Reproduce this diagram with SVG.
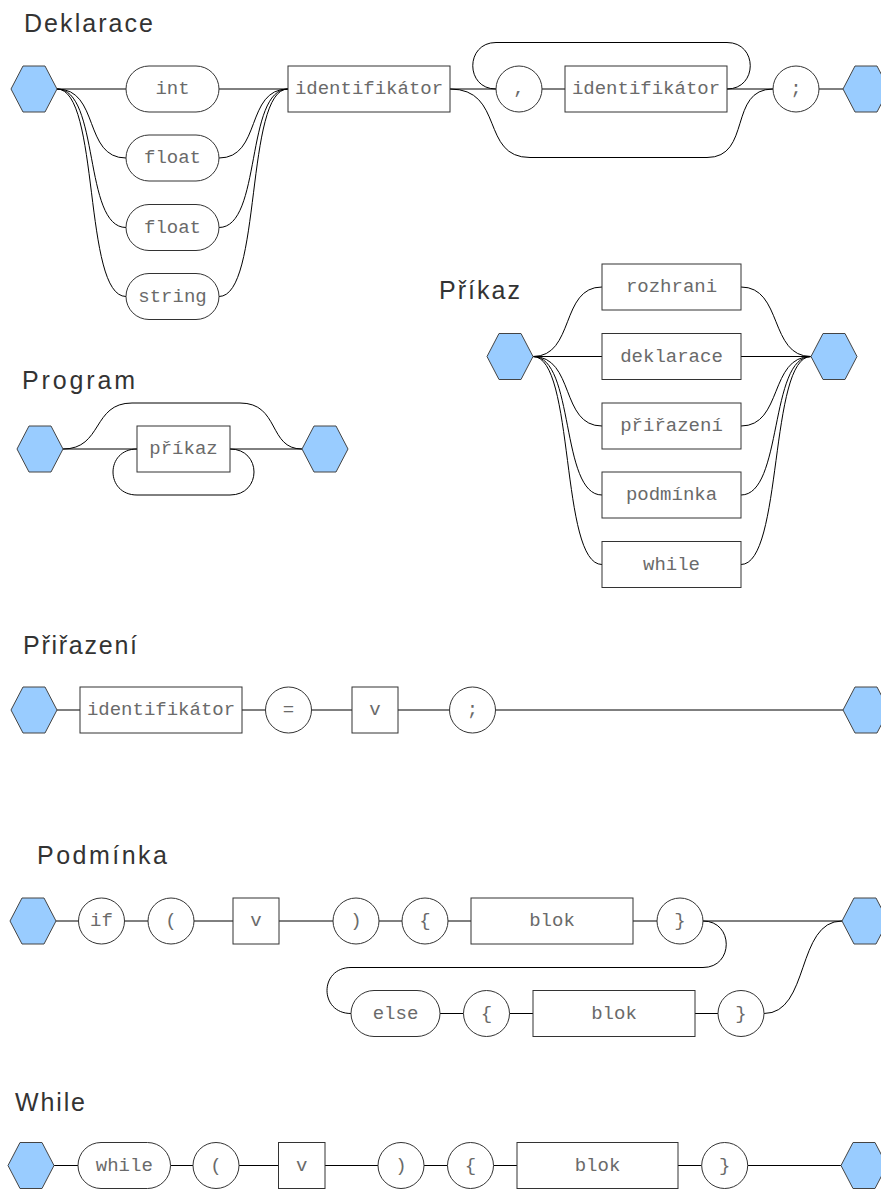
<svg xmlns="http://www.w3.org/2000/svg" width="881" height="1189" viewBox="0 0 881 1189">
<style>
.bg{fill:#fff}
.title{font-family:"Liberation Sans",Arial,sans-serif;font-size:25px;fill:#333}
.hex{fill:#99ccff;stroke:#444;stroke-width:1}
.node{fill:#fff;stroke:#333;stroke-width:1}
.lbl{font-family:"Liberation Mono","Courier New",monospace;font-size:19px;fill:#6a6a6a;text-anchor:middle}
.conn path{fill:none;stroke:#000;stroke-width:1}
</style>
<rect class="bg" x="0" y="0" width="881" height="1189"/>

<!-- Titles -->
<text class="title" x="24" y="31.5" textLength="129" lengthAdjust="spacing">Deklarace</text>
<text class="title" x="22" y="389" textLength="113" lengthAdjust="spacing">Program</text>
<text class="title" x="439" y="299" textLength="81" lengthAdjust="spacing">Příkaz</text>
<text class="title" x="23" y="654" textLength="114" lengthAdjust="spacing">Přiřazení</text>
<text class="title" x="37" y="864" textLength="130" lengthAdjust="spacing">Podmínka</text>
<text class="title" x="15" y="1111" textLength="70" lengthAdjust="spacing">While</text>

<!-- Connectors -->
<g id="connectors" class="conn">
  <!-- Deklarace -->
  <path d="M57,89 L126,89"/>
  <path d="M57,89 C100,89 83,158 126,158"/>
  <path d="M57,89 C100,89 83,227.5 126,227.5"/>
  <path d="M57,89 C100,89 83,296.5 126,296.5"/>
  <path d="M219,89 L288,89"/>
  <path d="M219,158 C262,158 245,89 288,89"/>
  <path d="M219,227.5 C262,227.5 245,89 288,89"/>
  <path d="M219,296.5 C262,296.5 245,89 288,89"/>
  <path d="M450,89 L496,89"/>
  <path d="M542,89 L565,89"/>
  <path d="M727,89 L773,89"/>
  <path d="M819,89 L843,89"/>
  <path d="M727,89 C758,89 758,42.5 727,42.5 L496,42.5 C465,42.5 465,89 496,89"/>
  <path d="M450,89 C505,89 480,157.5 530,157.5 L707,157.5 C752,157.5 728,89 773,89"/>
  <!-- Program -->
  <path d="M63,449 L137,449"/>
  <path d="M230,449 L302,449"/>
  <path d="M63,449 C103,449 92,403 132,403 L240,403 C280,403 268,449 302,449"/>
  <path d="M230,449 C262,449 262,495 230,495 L137,495 C105,495 105,449 137,449"/>
  <!-- Příkaz -->
  <path d="M533,356.5 C575,356.5 560,287 602,287"/>
  <path d="M533,356.5 L602,356.5"/>
  <path d="M533,356.5 C575,356.5 560,426 602,426"/>
  <path d="M533,356.5 C575,356.5 560,495 602,495"/>
  <path d="M533,356.5 C575,356.5 560,564.5 602,564.5"/>
  <path d="M741,287 C783,287 769,356.5 811,356.5"/>
  <path d="M741,356.5 L811,356.5"/>
  <path d="M741,426 C783,426 769,356.5 811,356.5"/>
  <path d="M741,495 C783,495 769,356.5 811,356.5"/>
  <path d="M741,564.5 C783,564.5 769,356.5 811,356.5"/>
  <!-- Přiřazení -->
  <path d="M57,710 L80,710"/>
  <path d="M242,710 L265.5,710"/>
  <path d="M311.5,710 L352,710"/>
  <path d="M398,710 L449.5,710"/>
  <path d="M495.5,710 L843,710"/>
  <!-- Podmínka -->
  <path d="M56,921 L78.5,921"/>
  <path d="M124.5,921 L148,921"/>
  <path d="M194,921 L233,921"/>
  <path d="M279,921 L333,921"/>
  <path d="M379,921 L402,921"/>
  <path d="M448,921 L471,921"/>
  <path d="M633,921 L657,921"/>
  <path d="M703,921 L842,921"/>
  <path d="M703,921 C734,921 734,967.5 703,967.5 L351,967.5 C319,967.5 319,1013.5 351,1013.5"/>
  <path d="M440,1013.5 L463.5,1013.5"/>
  <path d="M509.5,1013.5 L533,1013.5"/>
  <path d="M695,1013.5 L718,1013.5"/>
  <path d="M764,1013.5 C810,1013.5 796,921 842,921"/>
  <!-- While -->
  <path d="M54,1165.5 L78,1165.5"/>
  <path d="M170.5,1165.5 L193,1165.5"/>
  <path d="M239,1165.5 L278.5,1165.5"/>
  <path d="M325,1165.5 L378,1165.5"/>
  <path d="M424,1165.5 L447.5,1165.5"/>
  <path d="M493.5,1165.5 L517,1165.5"/>
  <path d="M678,1165.5 L701.7,1165.5"/>
  <path d="M747.7,1165.5 L841,1165.5"/>
</g>

<!-- Deklarace nodes -->
<g id="dekl-start"><polygon class="hex" points="11,89 23,66 45,66 57,89 45,112 23,112"/></g>
<g id="dekl-int"><rect class="node" x="126" y="66" width="93" height="46" rx="23"/><text class="lbl" x="172.5" y="94">int</text></g>
<g id="dekl-float1"><rect class="node" x="126" y="135" width="93" height="46" rx="23"/><text class="lbl" x="172.5" y="163">float</text></g>
<g id="dekl-float2"><rect class="node" x="126" y="204.5" width="93" height="46" rx="23"/><text class="lbl" x="172.5" y="232.5">float</text></g>
<g id="dekl-string"><rect class="node" x="126" y="273.5" width="93" height="46" rx="23"/><text class="lbl" x="172.5" y="301.5">string</text></g>
<g id="dekl-ident1"><rect class="node" x="288" y="66" width="162" height="46"/><text class="lbl" x="369" y="94">identifikátor</text></g>
<g id="dekl-comma"><circle class="node" cx="519" cy="89" r="23"/><text class="lbl" x="519" y="94">,</text></g>
<g id="dekl-ident2"><rect class="node" x="565" y="66" width="162" height="46"/><text class="lbl" x="646" y="94">identifikátor</text></g>
<g id="dekl-semi"><circle class="node" cx="796" cy="89" r="23"/><text class="lbl" x="796" y="94">;</text></g>
<g id="dekl-end"><polygon class="hex" points="843,89 855,66 877,66 889,89 877,112 855,112"/></g>

<!-- Program nodes -->
<g id="prog-start"><polygon class="hex" points="17,449 29,426 51,426 63,449 51,472 29,472"/></g>
<g id="prog-prikaz"><rect class="node" x="137" y="426" width="93" height="46"/><text class="lbl" x="183.5" y="454">příkaz</text></g>
<g id="prog-end"><polygon class="hex" points="302,449 314,426 336,426 348,449 336,472 314,472"/></g>

<!-- Příkaz nodes -->
<g id="prik-start"><polygon class="hex" points="487,356.5 499,333.5 521,333.5 533,356.5 521,379.5 499,379.5"/></g>
<g id="prik-rozhrani"><rect class="node" x="602" y="264" width="139" height="46"/><text class="lbl" x="671.5" y="292">rozhrani</text></g>
<g id="prik-deklarace"><rect class="node" x="602" y="333.5" width="139" height="46"/><text class="lbl" x="671.5" y="361.5">deklarace</text></g>
<g id="prik-prirazeni"><rect class="node" x="602" y="403" width="139" height="46"/><text class="lbl" x="671.5" y="431">přiřazení</text></g>
<g id="prik-podminka"><rect class="node" x="602" y="472" width="139" height="46"/><text class="lbl" x="671.5" y="500">podmínka</text></g>
<g id="prik-while"><rect class="node" x="602" y="541.5" width="139" height="46"/><text class="lbl" x="671.5" y="569.5">while</text></g>
<g id="prik-end"><polygon class="hex" points="811,356.5 823,333.5 845,333.5 857,356.5 845,379.5 823,379.5"/></g>

<!-- Přiřazení nodes -->
<g id="prir-start"><polygon class="hex" points="11,710 23,687 45,687 57,710 45,733 23,733"/></g>
<g id="prir-ident"><rect class="node" x="80" y="687" width="162" height="46"/><text class="lbl" x="161" y="715">identifikátor</text></g>
<g id="prir-eq"><circle class="node" cx="288.5" cy="710" r="23"/><text class="lbl" x="288.5" y="715">=</text></g>
<g id="prir-v"><rect class="node" x="352" y="687" width="46" height="46"/><text class="lbl" x="375" y="715">v</text></g>
<g id="prir-semi"><circle class="node" cx="472.5" cy="710" r="23"/><text class="lbl" x="472.5" y="715">;</text></g>
<g id="prir-end"><polygon class="hex" points="843,710 855,687 877,687 889,710 877,733 855,733"/></g>

<!-- Podmínka nodes -->
<g id="podm-start"><polygon class="hex" points="10,921 22,898 44,898 56,921 44,944 22,944"/></g>
<g id="podm-if"><circle class="node" cx="101.5" cy="921" r="23"/><text class="lbl" x="101.5" y="926">if</text></g>
<g id="podm-lpar"><circle class="node" cx="171" cy="921" r="23"/><text class="lbl" x="171" y="926">(</text></g>
<g id="podm-v"><rect class="node" x="233" y="898" width="46" height="46"/><text class="lbl" x="256" y="926">v</text></g>
<g id="podm-rpar"><circle class="node" cx="356" cy="921" r="23"/><text class="lbl" x="356" y="926">)</text></g>
<g id="podm-lbrace"><circle class="node" cx="425" cy="921" r="23"/><text class="lbl" x="425" y="926">{</text></g>
<g id="podm-blok1"><rect class="node" x="471" y="898" width="162" height="46"/><text class="lbl" x="552" y="926">blok</text></g>
<g id="podm-rbrace"><circle class="node" cx="680" cy="921" r="23"/><text class="lbl" x="680" y="926">}</text></g>
<g id="podm-else"><rect class="node" x="351" y="990.5" width="89" height="46" rx="23"/><text class="lbl" x="395.5" y="1018.5">else</text></g>
<g id="podm-lbrace2"><circle class="node" cx="486.5" cy="1013.5" r="23"/><text class="lbl" x="486.5" y="1018.5">{</text></g>
<g id="podm-blok2"><rect class="node" x="533" y="990.5" width="162" height="46"/><text class="lbl" x="614" y="1018.5">blok</text></g>
<g id="podm-rbrace2"><circle class="node" cx="741" cy="1013.5" r="23"/><text class="lbl" x="741" y="1018.5">}</text></g>
<g id="podm-end"><polygon class="hex" points="842,921 854,898 876,898 888,921 876,944 854,944"/></g>

<!-- While nodes -->
<g id="while-start"><polygon class="hex" points="8,1165.5 20,1142.5 42,1142.5 54,1165.5 42,1188.5 20,1188.5"/></g>
<g id="while-kw"><rect class="node" x="78" y="1142.5" width="92.5" height="46" rx="23"/><text class="lbl" x="124.3" y="1170.5">while</text></g>
<g id="while-lpar"><circle class="node" cx="216" cy="1165.5" r="23"/><text class="lbl" x="216" y="1170.5">(</text></g>
<g id="while-v"><rect class="node" x="278.5" y="1142.5" width="46.5" height="46"/><text class="lbl" x="301.7" y="1170.5">v</text></g>
<g id="while-rpar"><circle class="node" cx="401" cy="1165.5" r="23"/><text class="lbl" x="401" y="1170.5">)</text></g>
<g id="while-lbrace"><circle class="node" cx="470.5" cy="1165.5" r="23"/><text class="lbl" x="470.5" y="1170.5">{</text></g>
<g id="while-blok"><rect class="node" x="517" y="1142.5" width="161" height="46"/><text class="lbl" x="597.5" y="1170.5">blok</text></g>
<g id="while-rbrace"><circle class="node" cx="724.7" cy="1165.5" r="23"/><text class="lbl" x="724.7" y="1170.5">}</text></g>
<g id="while-end"><polygon class="hex" points="841,1165.5 853,1142.5 875,1142.5 887,1165.5 875,1188.5 853,1188.5"/></g>
</svg>
